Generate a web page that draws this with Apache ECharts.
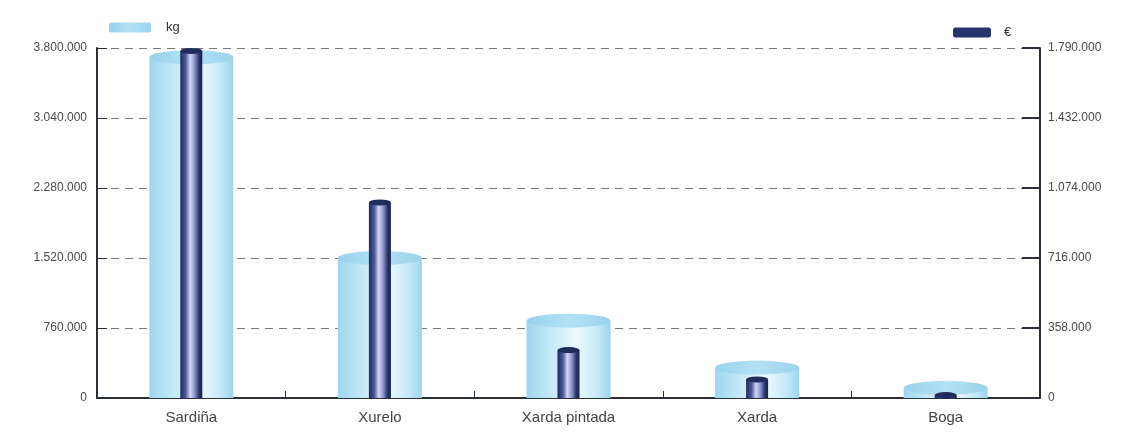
<!DOCTYPE html>
<html>
<head>
<meta charset="utf-8">
<script src="https://cdn.jsdelivr.net/npm/echarts@6/dist/echarts.min.js"></script>
<style>
  html, body { margin: 0; padding: 0; background: #ffffff; }
  #chart { width: 1129px; height: 433px; }
</style>
</head>
<body>
<div id="chart"></div>
<script>
// Catch by species: weight (kg, left axis) and value (€, right axis)
const categories = ['Sardiña', 'Xurelo', 'Xarda pintada', 'Xarda', 'Boga'];
const kgValues = [3700000, 1520000, 840000, 330000, 110000];
const euroValues = [1775000, 1000000, 245000, 95000, 15000];
const kgTicks = [0, 760000, 1520000, 2280000, 3040000, 3800000];
const euroTicks = [0, 358000, 716000, 1074000, 1432000, 1790000];

function fmt(v) {
  return String(v).replace(/\B(?=(\d{3})+(?!\d))/g, '.');
}

const kgBody = new echarts.graphic.LinearGradient(0, 0, 1, 0, [
  { offset: 0, color: '#9dd6ee' },
  { offset: 0.2, color: '#b8e3f5' },
  { offset: 0.6, color: '#eef9fe' },
  { offset: 0.85, color: '#c4e9f8' },
  { offset: 1, color: '#9cd4ec' }
]);
const kgTop = new echarts.graphic.LinearGradient(0, 0, 1, 0, [
  { offset: 0, color: '#98d2ec' },
  { offset: 0.5, color: '#b4e1f4' },
  { offset: 1, color: '#9ad3ec' }
]);
const euroBody = new echarts.graphic.LinearGradient(0, 0, 1, 0, [
  { offset: 0, color: '#1d2a58' },
  { offset: 0.25, color: '#4a5a9a' },
  { offset: 0.45, color: '#d6d6f4' },
  { offset: 0.65, color: '#8a94cc' },
  { offset: 0.85, color: '#2a3668' },
  { offset: 1, color: '#16204a' }
]);

const chart = echarts.init(document.getElementById('chart'), null, { renderer: 'canvas' });

const axisText = { color: '#4a4a4a', fontFamily: 'Liberation Sans', fontSize: 12 };

chart.setOption({
  backgroundColor: '#ffffff',
  animation: false,
  grid: { left: 97, right: 89, top: 48, bottom: 35 },
  legend: [
    {
      data: [{ name: 'kg', itemStyle: { color: kgTop } }],
      left: 104, top: 16,
      icon: 'roundRect', itemWidth: 42, itemHeight: 10, itemGap: 18,
      textStyle: { color: '#333', fontFamily: 'Liberation Sans', fontSize: 13, padding: [0, 0, 0, 10] }
    },
    {
      data: [{ name: '€', itemStyle: { color: '#26356c' } }],
      left: 948, top: 21,
      icon: 'roundRect', itemWidth: 38, itemHeight: 10,
      textStyle: { color: '#333', fontFamily: 'Liberation Sans', fontSize: 13, padding: [0, 0, 0, 8] }
    }
  ],
  xAxis: [
    {
      type: 'category', data: categories,
      axisLine: { lineStyle: { color: '#2b2f3a', width: 2 } },
      axisTick: { show: true, inside: true, length: 7, lineStyle: { color: '#2b2f3a' } },
      axisLabel: { color: '#444', fontFamily: 'Liberation Sans', fontSize: 15, margin: 12 },
      splitLine: { show: false }
    },
    {
      type: 'category', data: categories, show: false
    }
  ],
  yAxis: [
    {
      type: 'value', min: 0, max: kgTicks[kgTicks.length - 1], interval: kgTicks[1],
      position: 'left',
      axisLine: { show: true, lineStyle: { color: '#2b2f3a', width: 2 } },
      axisTick: { show: true, inside: true, length: 10, lineStyle: { color: '#2b2f3a' } },
      axisLabel: Object.assign({ margin: 10, formatter: fmt }, axisText),
      splitLine: { show: true, lineStyle: { color: '#7a7a7a', type: [8, 6], width: 1 } }
    },
    {
      type: 'value', min: 0, max: euroTicks[euroTicks.length - 1], interval: euroTicks[1],
      position: 'right',
      axisLine: { show: true, lineStyle: { color: '#2b2f3a', width: 2 } },
      axisTick: { show: true, inside: true, length: 18, lineStyle: { color: '#2b2f3a', width: 2 } },
      axisLabel: Object.assign({ margin: 8, formatter: fmt }, axisText),
      splitLine: { show: false }
    }
  ],
  series: [
    {
      name: 'kg', type: 'bar', xAxisIndex: 0, yAxisIndex: 0,
      data: kgValues, barWidth: 84,
      itemStyle: { color: kgBody }, z: 2
    },
    {
      name: 'kg', type: 'pictorialBar', xAxisIndex: 0, yAxisIndex: 0,
      data: kgValues, symbol: 'circle', symbolSize: [84, 14],
      symbolPosition: 'end', symbolOffset: [0, '-50%'],
      itemStyle: { color: kgTop }, z: 3
    },
    {
      name: '€', type: 'bar', xAxisIndex: 1, yAxisIndex: 1,
      data: euroValues, barWidth: 22,
      itemStyle: { color: euroBody }, z: 4
    },
    {
      name: '€', type: 'pictorialBar', xAxisIndex: 1, yAxisIndex: 1,
      data: euroValues, symbol: 'circle', symbolSize: [22, 6],
      symbolPosition: 'end', symbolOffset: [0, '-50%'],
      itemStyle: { color: '#1f2c5c' }, z: 5
    }
  ]
});
</script>
</body>
</html>
